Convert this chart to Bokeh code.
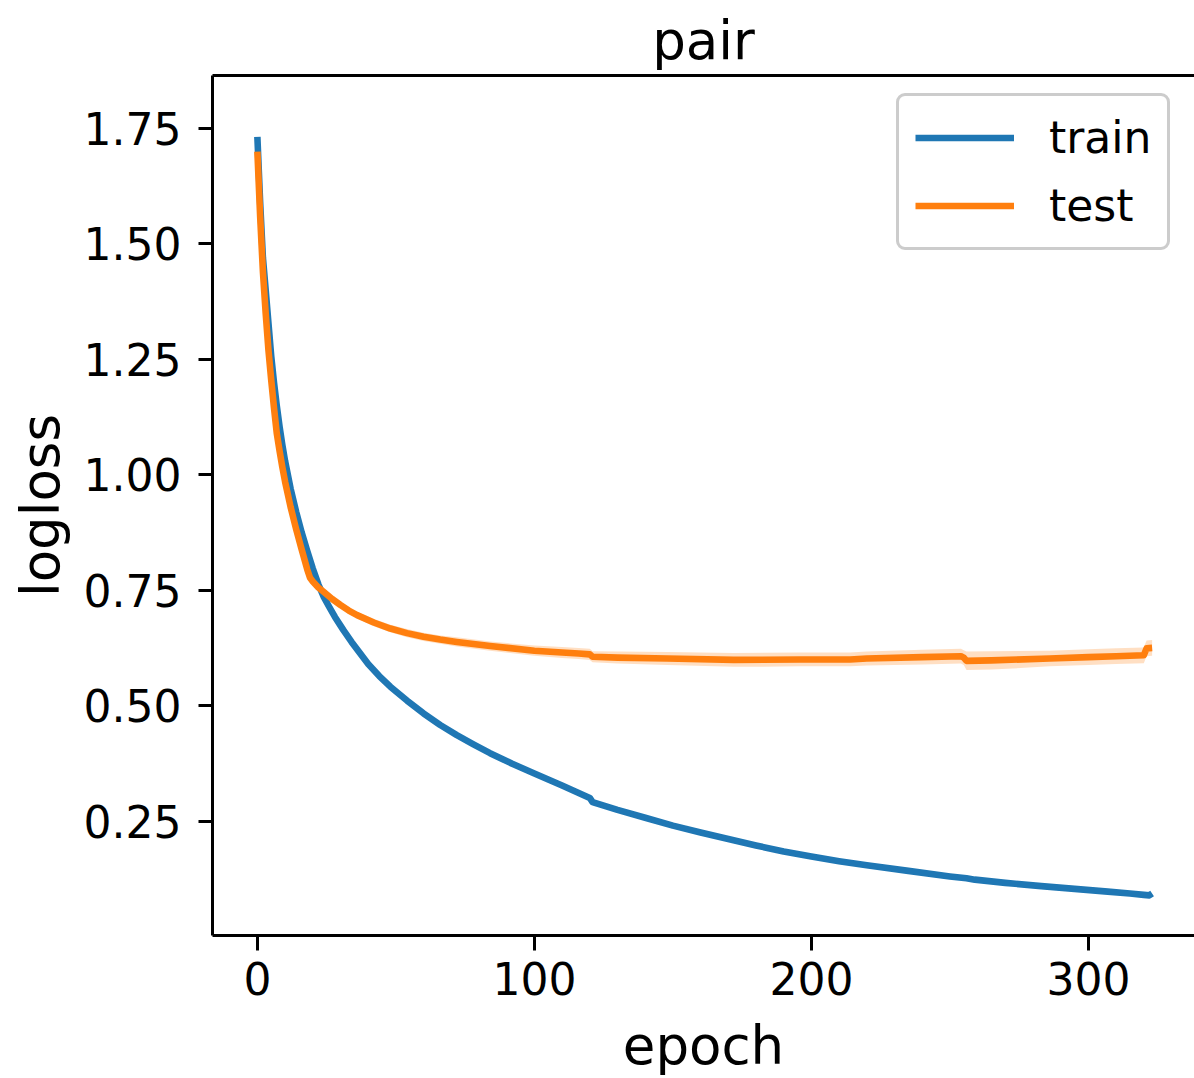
from bokeh.plotting import figure
from bokeh.models import Range1d, FixedTicker, PrintfTickFormatter, LinearAxis, Legend, LegendItem
from bokeh.embed import file_html
from bokeh.resources import INLINE

train_epochs = [0, 1, 2, 3, 4, 5, 6, 7, 8, 9,
                10, 12, 14, 16, 18, 20, 22, 24, 26, 28,
                31, 34, 37, 40, 44, 48, 54, 60, 66, 72,
                78, 84, 92, 100, 110, 120, 121, 130, 140, 150,
                160, 170, 180, 190, 200, 210, 220, 235, 250, 256,
                259, 270, 283, 295, 307, 315, 320, 322, 323]
train_loss = [1.732, 1.59, 1.47, 1.40, 1.328, 1.257, 1.20, 1.15, 1.105, 1.065,
              1.03, 0.97, 0.92, 0.875, 0.835, 0.797, 0.763, 0.735, 0.713, 0.692,
              0.664, 0.638, 0.614, 0.590, 0.564, 0.541, 0.511, 0.483, 0.458, 0.436,
              0.416, 0.397, 0.374, 0.353, 0.327, 0.300, 0.291, 0.274, 0.257, 0.240,
              0.225, 0.211, 0.197, 0.184, 0.173, 0.163, 0.154, 0.142, 0.130, 0.126,
              0.123, 0.116, 0.109, 0.103, 0.097, 0.093, 0.090, 0.089, 0.093]

test_epochs = [0, 1, 2, 3, 4, 5, 6, 7, 8, 9,
               10, 12, 14, 16, 18, 19, 20, 22, 24, 27,
               30, 33, 36, 42, 48, 54, 60, 66, 72, 84,
               100, 110, 116, 120, 121, 130, 148, 172, 196, 214,
               220, 240, 254, 255, 256, 265, 286, 300, 310, 320,
               321, 323]
test_loss = [1.70, 1.56, 1.44, 1.35, 1.27, 1.205, 1.145, 1.09, 1.052, 1.017,
             0.985, 0.93, 0.882, 0.838, 0.795, 0.777, 0.769, 0.756, 0.746, 0.731,
             0.718, 0.706, 0.696, 0.680, 0.667, 0.657, 0.649, 0.643, 0.638, 0.629,
             0.619, 0.615, 0.613, 0.611, 0.606, 0.604, 0.602, 0.599, 0.600, 0.600,
             0.602, 0.605, 0.607, 0.604, 0.597, 0.598, 0.602, 0.605, 0.607, 0.609,
             0.624, 0.625]
test_std = [0.002, 0.003, 0.003, 0.003, 0.003, 0.003, 0.004, 0.004, 0.004, 0.004,
            0.004, 0.005, 0.005, 0.005, 0.006, 0.006, 0.006, 0.006, 0.006, 0.007,
            0.007, 0.007, 0.007, 0.008, 0.008, 0.009, 0.009, 0.009, 0.010, 0.010,
            0.011, 0.012, 0.012, 0.012, 0.012, 0.013, 0.014, 0.015, 0.015, 0.015,
            0.015, 0.016, 0.016, 0.016, 0.020, 0.020, 0.017, 0.017, 0.017, 0.017,
            0.017, 0.017]

x_ticks = [0, 100, 200, 300]
y_ticks = [0.25, 0.50, 0.75, 1.00, 1.25, 1.50, 1.75]

FONT = "DejaVu Sans"
BLUE = "#1f77b4"
ORANGE = "#ff7f0e"

p = figure(width=1194, height=1078, output_backend="svg", toolbar_location=None,
           x_range=Range1d(-16.2, 338.3), y_range=Range1d(0.002, 1.865),
           min_border_left=212, min_border_right=0, min_border_top=75, min_border_bottom=143,
           title="pair")
p.background_fill_color = "white"
p.border_fill_color = "white"
p.outline_line_color = None
p.xgrid.visible = False
p.ygrid.visible = False

p.title.text_font = FONT
p.title.text_font_size = "53px"
p.title.text_font_style = "normal"
p.title.text_color = "black"
p.title.align = "center"

for ax in (p.xaxis[0], p.yaxis[0]):
    ax.axis_line_width = 3
    ax.axis_line_color = "black"
    ax.major_tick_line_width = 3
    ax.major_tick_line_color = "black"
    ax.major_tick_in = 0
    ax.minor_tick_in = 0
    ax.minor_tick_out = 0
    ax.major_label_text_font = FONT
    ax.major_label_text_font_size = "44px"
    ax.major_label_text_color = "black"
    ax.axis_label_text_font = FONT
    ax.axis_label_text_font_size = "53px"
    ax.axis_label_text_font_style = "normal"
    ax.axis_label_text_color = "black"

xa = p.xaxis[0]
xa.ticker = FixedTicker(ticks=x_ticks)
xa.major_tick_out = 15
xa.major_label_standoff = 11
xa.axis_label = "epoch"
xa.axis_label_standoff = 17

ya = p.yaxis[0]
ya.ticker = FixedTicker(ticks=y_ticks)
ya.formatter = PrintfTickFormatter(format="%.2f")
ya.major_tick_out = 14
ya.major_label_standoff = 17
ya.axis_label = "logloss"
ya.axis_label_standoff = 10

top = LinearAxis(ticker=FixedTicker(ticks=[]), major_tick_out=0, major_tick_in=0,
                 minor_tick_out=0, minor_tick_in=0, major_label_standoff=0,
                 major_label_text_font_size="0px", axis_line_width=3, axis_line_color="black")
p.add_layout(top, "above")

band_lo = [m - s for m, s in zip(test_loss, test_std)]
band_hi = [m + s for m, s in zip(test_loss, test_std)]

r_train = p.line(train_epochs, train_loss, line_color=BLUE, line_width=6.6, line_join="round")
p.varea(x=test_epochs, y1=band_lo, y2=band_hi, fill_color=ORANGE, fill_alpha=0.25)
r_test = p.line(test_epochs, test_loss, line_color=ORANGE, line_width=6.6, line_join="round")

legend = Legend(items=[LegendItem(label="train", renderers=[r_train]),
                       LegendItem(label="test", renderers=[r_test])],
                location=(684, 685),
                label_text_font=FONT, label_text_font_size="44px", label_text_color="black",
                glyph_width=99, glyph_height=51, label_height=51, label_standoff=35,
                spacing=17, padding=16, margin=0,
                border_line_color="#cccccc", border_line_width=3, border_line_alpha=1.0,
                background_fill_color="white", background_fill_alpha=0.8)
try:
    legend.border_radius = 9
except Exception:
    pass
p.add_layout(legend)

open("out.html", "w").write(file_html(p, INLINE))
